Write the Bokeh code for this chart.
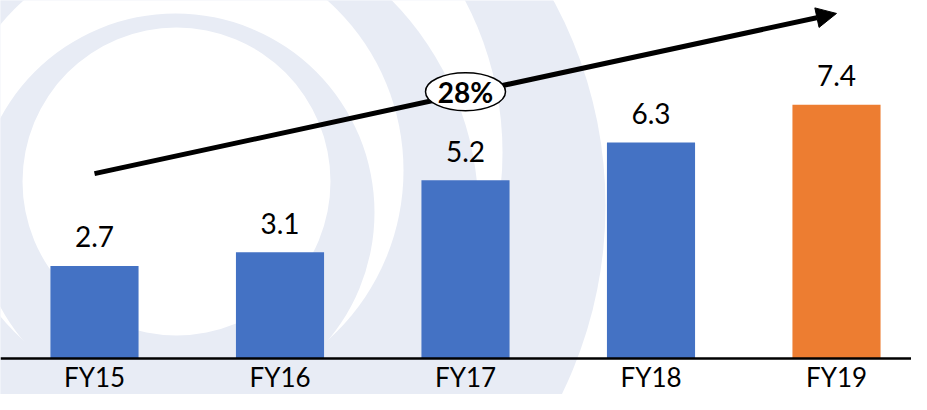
from bokeh.plotting import figure
from bokeh.models import Range1d, Span, Arrow, NormalHead, ColumnDataSource
from bokeh.core.properties import value
from bokeh.embed import file_html
from bokeh.resources import INLINE

# ---- data ----
categories = ["FY15", "FY16", "FY17", "FY18", "FY19"]
values = [2.7, 3.1, 5.2, 6.3, 7.4]
value_labels = ["2.7", "3.1", "5.2", "6.3", "7.4"]
cagr_label = "28%"

# ---- styles ----
BLUE = "#4472C4"
ORANGE = "#ED7D31"
BG = "#E8ECF5"
FONT = "Lato"
bar_colors = [BLUE] * (len(values) - 1) + [ORANGE]

W, H = 911, 394
PX_PER_UNIT = 34.3
BASE_PX = 358.0
CAT_PX = 185.5
X0 = -94.0 / CAT_PX

x_pos = list(range(len(categories)))

p = figure(width=W, height=H, output_backend="svg", toolbar_location=None,
           x_range=Range1d(X0, X0 + W / CAT_PX),
           y_range=Range1d(-(H - BASE_PX) / PX_PER_UNIT, BASE_PX / PX_PER_UNIT),
           x_axis_location=None, y_axis_location=None, min_border=0)
p.grid.visible = False
p.outline_line_color = None
p.background_fill_color = "white"
p.border_fill_color = "white"

# decorative background swirl, in pixel coordinates
p.extra_x_ranges = {"bgx": Range1d(0, W)}
p.extra_y_ranges = {"bgy": Range1d(H, 0)}
bg_cx = [175, 175, 175, 175, 175, 176]
bg_cy = [205, 152, 212, 170, 212, 181]
bg_r = [430, 327, 303, 228, 199, 154]
bg_c = [BG, "white", BG, "white", BG, "white"]
p.circle(x=bg_cx, y=bg_cy, radius=bg_r, fill_color=bg_c, line_color=None,
         x_range_name="bgx", y_range_name="bgy", level="image")

# CAGR arrow
arrow = Arrow(end=NormalHead(size=20, fill_color="black", line_color="black", line_width=1),
              x_start=0, y_start=5.39, x_end=4, y_end=10.06,
              line_color="black", line_width=5, level="underlay")
p.add_layout(arrow)

src = ColumnDataSource(dict(x=x_pos, top=values, lab=value_labels, cat=categories, color=bar_colors))

p.vbar(x="x", top="top", bottom=0, width=0.475, source=src,
       fill_color="color", line_color=None)

p.add_layout(Span(location=0, dimension="width", line_color="black", line_width=2.5))

p.text(x="x", y="top", text="lab", source=src, text_font=value(FONT),
       text_font_size="28px", text_align="center", text_baseline="middle",
       y_offset=-29, text_color="black")

p.text(x="x", y=0, text="cat", source=src, text_font=value(FONT),
       text_font_size="26px", text_align="center", text_baseline="middle",
       y_offset=18, text_color="black")

# CAGR badge
p.ellipse(x=[2], y=[7.78], width=80, height=38, width_units="screen", height_units="screen",
          fill_color="white", line_color="black", line_width=1.5)
p.text(x=[2], y=[7.78], text=[cagr_label], text_font=value(FONT), text_font_size="28px",
       text_font_style="bold", text_align="center", text_baseline="middle",
       y_offset=0, text_color="black")

open("out.html", "w").write(file_html(p, INLINE))
